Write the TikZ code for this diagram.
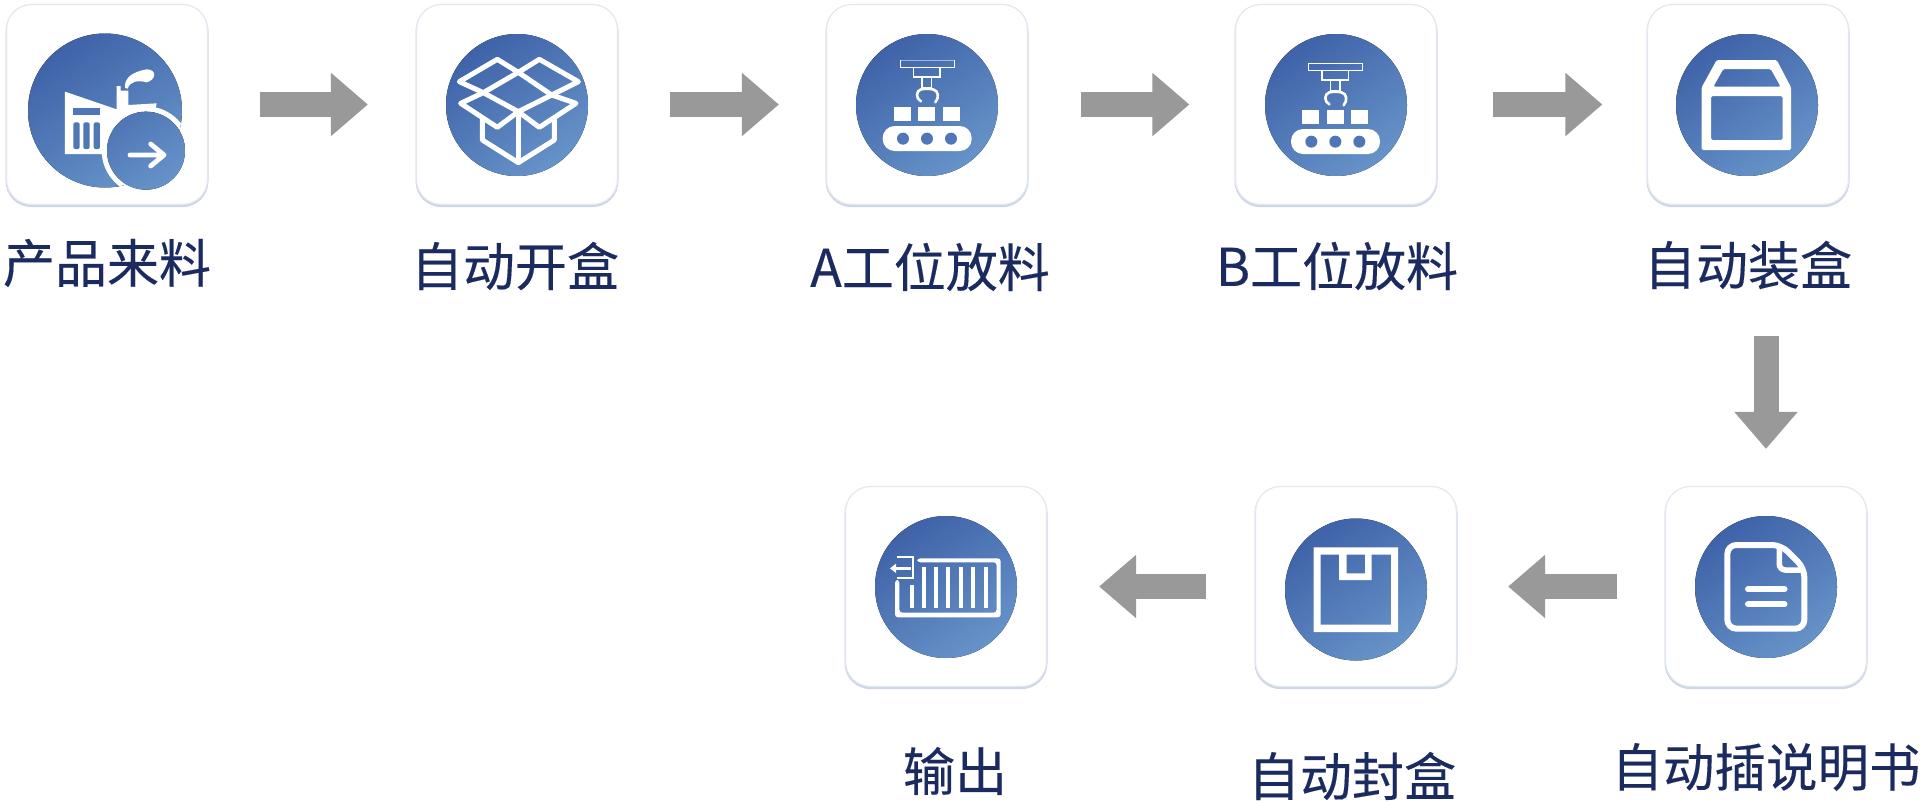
\documentclass[tikz,border=0pt]{standalone}
\usepackage{fontspec}
\setmainfont{Noto Sans CJK SC}[FakeBold=0.25]
\usetikzlibrary{arrows.meta}
\definecolor{navy}{HTML}{1B2B60}
\definecolor{gdark}{HTML}{3F62A8}
\definecolor{glight}{HTML}{6693C8}
\definecolor{gmid}{HTML}{4F76B6}
\definecolor{arrowgray}{HTML}{999999}
\definecolor{cardline}{HTML}{E3E7F0}
\definecolor{cardshadow}{HTML}{CDD6E4}
\newcommand{\conveyor}[1]{%
  \fill[white,rounded corners=12pt] (188,378) rectangle (455,453);
  \foreach \hx in {249,321,393} \fill[gmid] (\hx,416) circle (18);
  \foreach \bx in {222,295,368} \fill[white] (\bx,320) rectangle (\bx+51,364);
  \draw[white,line width=0.9pt,opacity=#1] (240,181)--(403,181);
  \draw[white,line width=1pt] (240,181)--(240,201)--(403,201)--(403,181);
  \draw[white,line width=1.6pt] (281,201)--(281,231)--(360,231)--(360,201);
  \draw[white,line width=1.6pt] (306,231)--(306,262)--(335,262)--(335,231);
  \draw[white,line width=2.6pt,line cap=round] (303,304) .. controls (286,296) and (288,272) .. (303,268) .. controls (312,266) and (330,266) .. (339,268) .. controls (356,272) and (358,292) .. (346,307);
}
\tikzset{
  x=1pt,y=-1pt,
  card/.style={rectangle,rounded corners=25pt,minimum width=201pt,minimum height=200pt,inner sep=0pt,
    fill=white,draw=cardline,line width=1.2pt,
    preaction={draw=cardshadow,line width=2pt,fill=cardshadow,transform canvas={yshift=-1.6pt}}},
  disc/.style={top color=gdark,bottom color=glight,shading angle=35},
  lab/.style={font=\fontsize{52}{52}\selectfont,text=navy,inner sep=0pt,anchor=center},
  flow/.style={draw=arrowgray,line width=25pt,-{Triangle[length=37pt,width=61pt]}},
  ico/.style={white,line width=5pt,line join=round,line cap=round},
}
\begin{document}
\begin{tikzpicture}
\useasboundingbox (0,0) rectangle (1920,801);
\fill[white] (0,0) rectangle (1920,801);
% cards
\node[card] (c1) at (107,104.5) {};
\node[card] (c2) at (517,104.5) {};
\node[card] (c3) at (927,104.5) {};
\node[card] (c4) at (1336,104.5) {};
\node[card] (c5) at (1748,104.5) {};
\node[card] (c6) at (1766,586.5) {};
\node[card] (c7) at (1356,586.5) {};
\node[card] (c8) at (946,586.5) {};
% labels
\node[lab] (l1) at (107,263) {产品来料};
\node[lab] (l2) at (515,266) {自动开盒};
\node[lab] (l3) at (930,267) {A工位放料};
\node[lab] (l4) at (1337,266) {B工位放料};
\node[lab] (l5) at (1748,265) {自动装盒};
\node[lab,font=\fontsize{51.5}{52}\selectfont] (l6) at (1766,767) {自动插说明书};
\node[lab] (l7) at (1352,776) {自动封盒};
\node[lab] (l8) at (955,771) {输出};
% arrows
\draw[flow,shorten <=51.5pt,shorten >=48pt] (c1) -- (c2);
\draw[flow,shorten <=51.5pt,shorten >=47pt] (c2) -- (c3);
\draw[flow,shorten <=52.5pt,shorten >=45.5pt] (c3) -- (c4);
\draw[flow,shorten <=55.5pt,shorten >=44.5pt] (c4) -- (c5);
\coordinate (d5) at (c6.north |- c5.south);
\draw[flow,shorten <=131pt,shorten >=37pt] (d5) -- (c6.north);
\draw[flow,shorten <=47.5pt,shorten >=51pt] (c6) -- (c7);
\draw[flow,shorten <=48.5pt,shorten >=52pt] (c7) -- (c8);
% discs
\fill[disc] (105,110.5) circle (77pt);
\foreach \cx/\cy in {517/105,927/105,1336/105,1747/105,1766/587,1356/589.5,946/587}
  \fill[disc] (\cx,\cy) circle (71pt);
% icon 1 factory
\begin{scope}[scale=1/3]
  \fill[white] (195,275)--(350,328)--(350,258)--(362,258)--(362,272)--(385,272)--(385,315)--(470,310)--(440,470)--(310,462)--(195,462)--cycle;
  \fill[white] (375,264) .. controls (372,232) and (400,215) .. (440,208) .. controls (472,208) and (468,240) .. (440,247) .. controls (415,240) and (390,243) .. (383,266) --cycle;
  \fill[gmid] (220,325) rectangle (300,345);
  \foreach \wx in {220,250,281} \fill[gmid,rounded corners=2pt] (\wx,367) rectangle (\wx+19,447);
  \begin{scope}
    \clip (315,331.5) circle (231);
    \fill[white] (438,452) circle (133);
  \end{scope}
  \fill[top color=gmid,bottom color=glight,shading angle=35] (438,452) circle (117);
  \draw[white,line width=4.8pt,line cap=round,line join=round] (390,465)--(488,465) (452,432)--(492,465)--(452,498);
\end{scope}
% icon 2 open box
\begin{scope}[shift={(400,0)},scale=1/3]
  \draw[ico] (178,245)--(292,178)--(355,217)--(250,278)--cycle;
  \draw[ico] (355,217)--(418,178)--(535,245)--(455,285)--cycle;
  \draw[ico] (182,310)--(250,278)--(355,335)--(292,382)--cycle;
  \draw[ico] (528,310)--(455,285)--(355,335)--(418,382)--cycle;
  \draw[ico] (247,355)--(247,420)--(355,488)--(463,420)--(463,355);
  \draw[ico] (355,335)--(355,488);
\end{scope}
% icons 3,4 conveyor
\begin{scope}[shift={(820,0)},scale=1/3]
  \conveyor{0.5}
\end{scope}
\begin{scope}[shift={(1228.33,3)},scale=1/3]
  \conveyor{1}
\end{scope}
% icon 5 box
\begin{scope}[shift={(1620,0)},scale=1/3]
  \fill[white,even odd rule,rounded corners=1.5pt] (245,262)--(290,180)--(470,180)--(513,262)--(513,450)--(245,450)--cycle
    (310,207)--(452,207)--(482,260)--(280,260)--cycle
    (273,288)--(488,288)--(488,420)--(273,420)--cycle;
\end{scope}
% icon 6 document
\begin{scope}[shift={(1230,470)},xscale=1/2.272,yscale=1/3]
  \draw[white,line width=6pt,rounded corners=9pt] (1130,225)--(1252,225)--(1305,295)--(1305,476)--(1130,476)--cycle;
  \draw[white,line width=5.5pt,rounded corners=6pt] (1248,225)--(1248,300)--(1305,300);
  \draw[white,line width=6pt,line cap=round] (1177,358)--(1260,358) (1177,403)--(1260,403);
\end{scope}
% icon 7 sealed box
\begin{scope}[shift={(1230,470)},xscale=1/2.272,yscale=1/3]
  \fill[white,even odd rule] (190,232)--(382,232)--(382,486)--(190,486)--cycle
    (206,254)--(248,254)--(248,330)--(322,330)--(322,254)--(366,254)--(366,464)--(206,464)--cycle
    (265,254)--(307,254)--(307,310)--(265,310)--cycle;
\end{scope}
% icon 8 container
\begin{scope}[shift={(830,470)},scale=1/3]
  \fill[white,rounded corners=3pt] (262,265)--(512,265)--(512,442)--(195,442)--(195,330)--(208,330)--(208,428)--(500,428)--(500,277)--(262,277)--cycle;
  \foreach \bx in {282,318,355,392,430,468} \fill[white] (\bx-6,290) rectangle (\bx+6,415);
  \fill[white] (239,345) rectangle (251,415);
  \draw[white,line width=2.2pt] (200,261)--(250,261)--(250,323)--(200,323);
  \draw[white,line width=2.6pt] (192,295)--(242,295);
  \fill[white] (180,295)--(198,281)--(198,309)--cycle;
\end{scope}
\end{tikzpicture}
\end{document}
